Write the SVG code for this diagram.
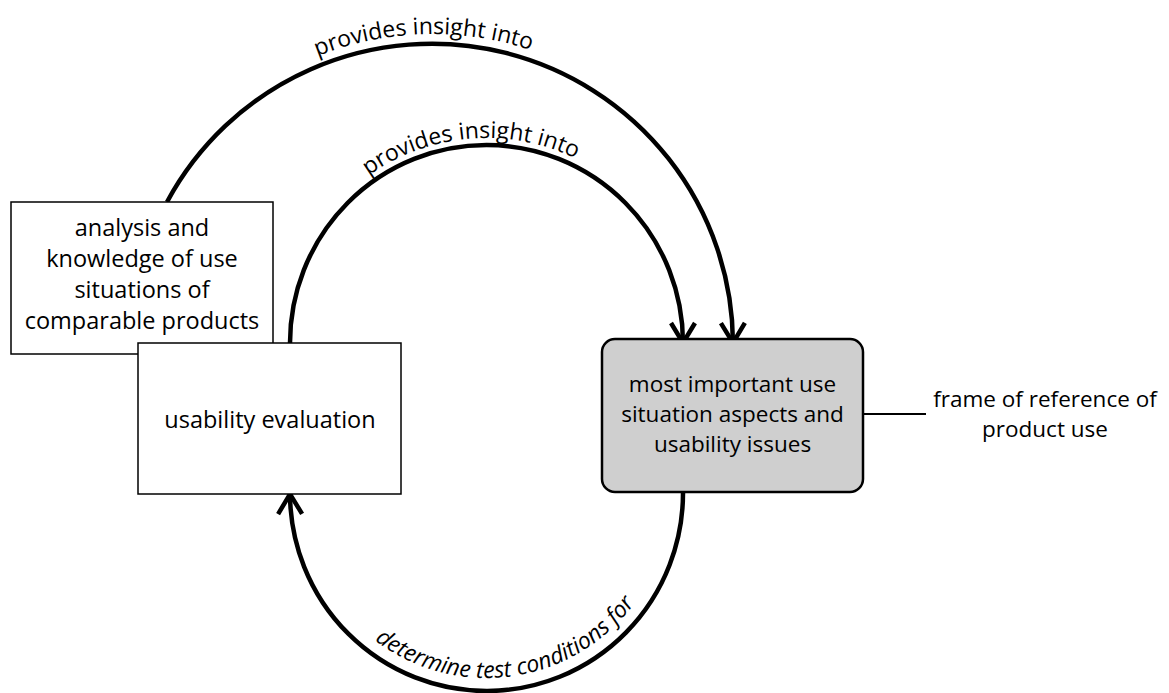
<svg xmlns="http://www.w3.org/2000/svg" width="1169" height="693" viewBox="0 0 1169 693">
<style>
  text { font-family: "Open Sans", "Liberation Sans", sans-serif; font-size: 23.5px; fill: #000; }
  .box { fill: #fff; stroke: #000; stroke-width: 1.5; }
  .gray { fill: #cfcfcf; stroke: #000; stroke-width: 2.5; }
  .arc { fill: none; stroke: #000; stroke-width: 4.5; marker-end: url(#open); }
  .lbl { font-size: 23px; }
  .it { font-style: italic; }
  .sm { font-size: 22.5px; }
</style>
<defs>
  <marker id="open" viewBox="-24 -14 28 28" refX="0" refY="0" markerWidth="28" markerHeight="28" markerUnits="userSpaceOnUse" orient="auto" overflow="visible">
    <path d="M-20,-12 L0,0 L-20,12" fill="none" stroke="#000" stroke-width="4.5" stroke-linejoin="miter"/>
  </marker>
  <path id="tpOuter" d="M159.6,198.1 A309,309 0 0 1 741.5,343"/>
  <path id="tpInner" d="M282.5,343 A204,205 0 0 1 690.5,343"/>
  <path id="tpBottom" d="M302.5,494 A184,184 0 0 0 670.5,494"/>
</defs>

<g id="connectors">
  <path class="arc" d="M167,202 A301,301 0 0 1 733,343"/>
  <path class="arc" d="M290,343 A196.5,198 0 0 1 683,343"/>
  <path class="arc" d="M683,492 A196.5,198 0 0 1 290,494"/>
  <line x1="863" y1="414" x2="926" y2="414" stroke="#000" stroke-width="2"/>
  <text class="lbl"><textPath href="#tpOuter" startOffset="39.7%" text-anchor="middle">provides insight into</textPath></text>
  <text class="lbl"><textPath href="#tpInner" startOffset="47.4%" text-anchor="middle">provides insight into</textPath></text>
  <text class="lbl it"><textPath href="#tpBottom" startOffset="54.5%" text-anchor="middle">determine test conditions for</textPath></text>
</g>

<g id="analysis">
  <rect class="box" x="11" y="202" width="262" height="152"/>
  <text text-anchor="middle" x="142" y="236">analysis and</text>
  <text text-anchor="middle" x="142" y="267">knowledge of use</text>
  <text text-anchor="middle" x="142" y="298">situations of</text>
  <text text-anchor="middle" x="142" y="329">comparable products</text>
</g>

<g id="usability">
  <rect class="box" x="138" y="343" width="263" height="151"/>
  <text text-anchor="middle" x="270" y="428">usability evaluation</text>
</g>

<g id="important">
  <rect class="gray" x="602" y="339" width="261" height="153" rx="13"/>
  <text class="sm" text-anchor="middle" x="732.5" y="392">most important use</text>
  <text class="sm" text-anchor="middle" x="732.5" y="422">situation aspects and</text>
  <text class="sm" text-anchor="middle" x="732.5" y="452">usability issues</text>
</g>

<g id="frame">
  <text class="sm" text-anchor="middle" x="1045" y="407">frame of reference of</text>
  <text class="sm" text-anchor="middle" x="1045" y="437">product use</text>
</g>
</svg>
